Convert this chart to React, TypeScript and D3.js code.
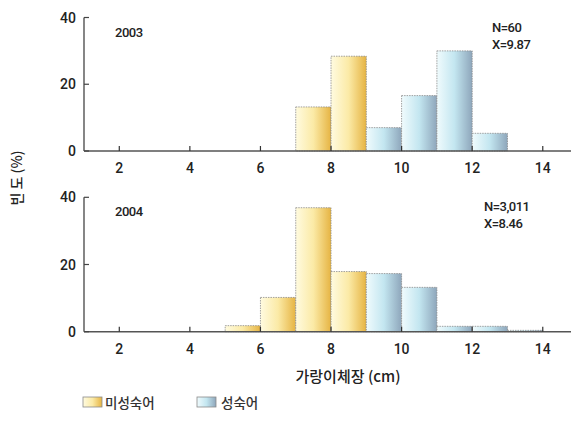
import React from "react";
import * as d3 from "d3";

const binStarts = [5, 6, 7, 8, 9, 10, 11, 12, 13];
const values2003 = [0, 0, 13.2, 28.4, 7.0, 16.6, 30.0, 5.3, 0];
const values2004 = [1.8, 10.2, 36.9, 17.9, 17.3, 13.2, 1.6, 1.6, 0.4];
const matureFrom = 9; // bins starting >= 9 are mature (성숙어)
const xTicks = [2, 4, 6, 8, 10, 12, 14];
const yTicks = [0, 20, 40];
const panels = [
  { year: "2003", n: "N=60", mean: "X=9.87", values: values2003, statX: 492 },
  { year: "2004", n: "N=3,011", mean: "X=8.46", values: values2004, statX: 484 },
];

const W = 571;
const H = 421;

export default function App() {
  const x = d3.scaleLinear().domain([1, 14.8]).range([84, 571]);
  const panelY = [
    d3.scaleLinear().domain([0, 40]).range([151, 17.5]),
    d3.scaleLinear().domain([0, 40]).range([331.7, 197.3]),
  ];
  const font = "Roboto, 'Liberation Sans', Arial, sans-serif";
  const kfont = "'Noto Sans CJK KR', sans-serif";
  return (
    <svg
      width={W}
      height={H}
      style={{ position: "absolute", left: 0, top: 0, background: "#fff" }}
    >
      <defs>
        <linearGradient id="gy" x1="0" x2="1" y1="0" y2="0">
          <stop offset="0" stopColor="#fffbe0" />
          <stop offset="0.5" stopColor="#fbeaa6" />
          <stop offset="1" stopColor="#e6b443" />
        </linearGradient>
        <linearGradient id="gb" x1="0" x2="1" y1="0" y2="0">
          <stop offset="0" stopColor="#f0fbfd" />
          <stop offset="0.5" stopColor="#c3e6f0" />
          <stop offset="1" stopColor="#8ea6bb" />
        </linearGradient>
      </defs>
      {panels.map((p, pi) => {
        const y = panelY[pi];
        return (
          <g key={p.year}>
            {binStarts.map((b, i) => {
              const v = p.values[i];
              if (v <= 0) return null;
              return (
                <rect
                  key={b}
                  x={x(b)}
                  y={y(v)}
                  width={x(b + 1) - x(b)}
                  height={y(0) - y(v)}
                  fill={b >= matureFrom ? "url(#gb)" : "url(#gy)"}
                  stroke="#8a8a8a"
                  strokeWidth={0.8}
                  strokeDasharray="1.5,1"
                />
              );
            })}
            <line x1={x(1)} x2={x(1)} y1={y(40)} y2={y(0)} stroke="#444" strokeWidth={1.3} />
            <line x1={x(1)} x2={W} y1={y(0)} y2={y(0)} stroke="#555" strokeWidth={1.6} />
            {yTicks.map((t) => (
              <g key={t}>
                <line x1={x(1)} x2={x(1) + 5} y1={y(t)} y2={y(t)} stroke="#444" strokeWidth={1.2} />
                <text
                  x={x(1) - 8}
                  y={y(t)}
                  textAnchor="end"
                  dominantBaseline="central"
                  fontFamily={font}
                  fontWeight={500}
                  fontSize={14}
                  fill="#222"
                >
                  {t}
                </text>
              </g>
            ))}
            {xTicks.map((t) => (
              <g key={t}>
                <line x1={x(t)} x2={x(t)} y1={y(0)} y2={y(0) - 5} stroke="#333" strokeWidth={1.2} />
                <text
                  x={x(t)}
                  y={y(0) + 22}
                  textAnchor="middle"
                  fontFamily={font}
                  fontWeight={500}
                  fontSize={14}
                  fill="#222"
                >
                  {t}
                </text>
              </g>
            ))}
            <text x={x(1) + 31} y={y(40) + 19} fontFamily={font} fontWeight={500} fontSize={13} fill="#222" letterSpacing={-0.5}>
              {p.year}
            </text>
            <text x={p.statX} y={y(40) + 14} fontFamily={font} fontWeight={500} fontSize={13} fill="#222" letterSpacing={-0.5}>
              {p.n}
            </text>
            <text x={p.statX} y={y(40) + 31} fontFamily={font} fontWeight={500} fontSize={13} fill="#222" letterSpacing={-0.5}>
              {p.mean}
            </text>
          </g>
        );
      })}
      <text
        transform="translate(22,178) rotate(-90)"
        textAnchor="middle"
        fontFamily={kfont}
        fontWeight={500}
        fontSize={14}
        fill="#222"
      >
        빈 도 (%)
      </text>
      <text x={348} y={382} textAnchor="middle" fontFamily={kfont} fontWeight={500} fontSize={15} fill="#222">
        가랑이체장 (cm)
      </text>
      <rect x={83} y={397} width={19} height={10} fill="url(#gy)" stroke="#8a8a8a" strokeWidth={0.8} />
      <text x={105} y={408} fontFamily={kfont} fontWeight={500} fontSize={13.5} fill="#333">
        미성숙어
      </text>
      <rect x={197} y={397} width={19} height={10} fill="url(#gb)" stroke="#8a8a8a" strokeWidth={0.8} />
      <text x={221} y={408} fontFamily={kfont} fontWeight={500} fontSize={13.5} fill="#333">
        성숙어
      </text>
    </svg>
  );
}
